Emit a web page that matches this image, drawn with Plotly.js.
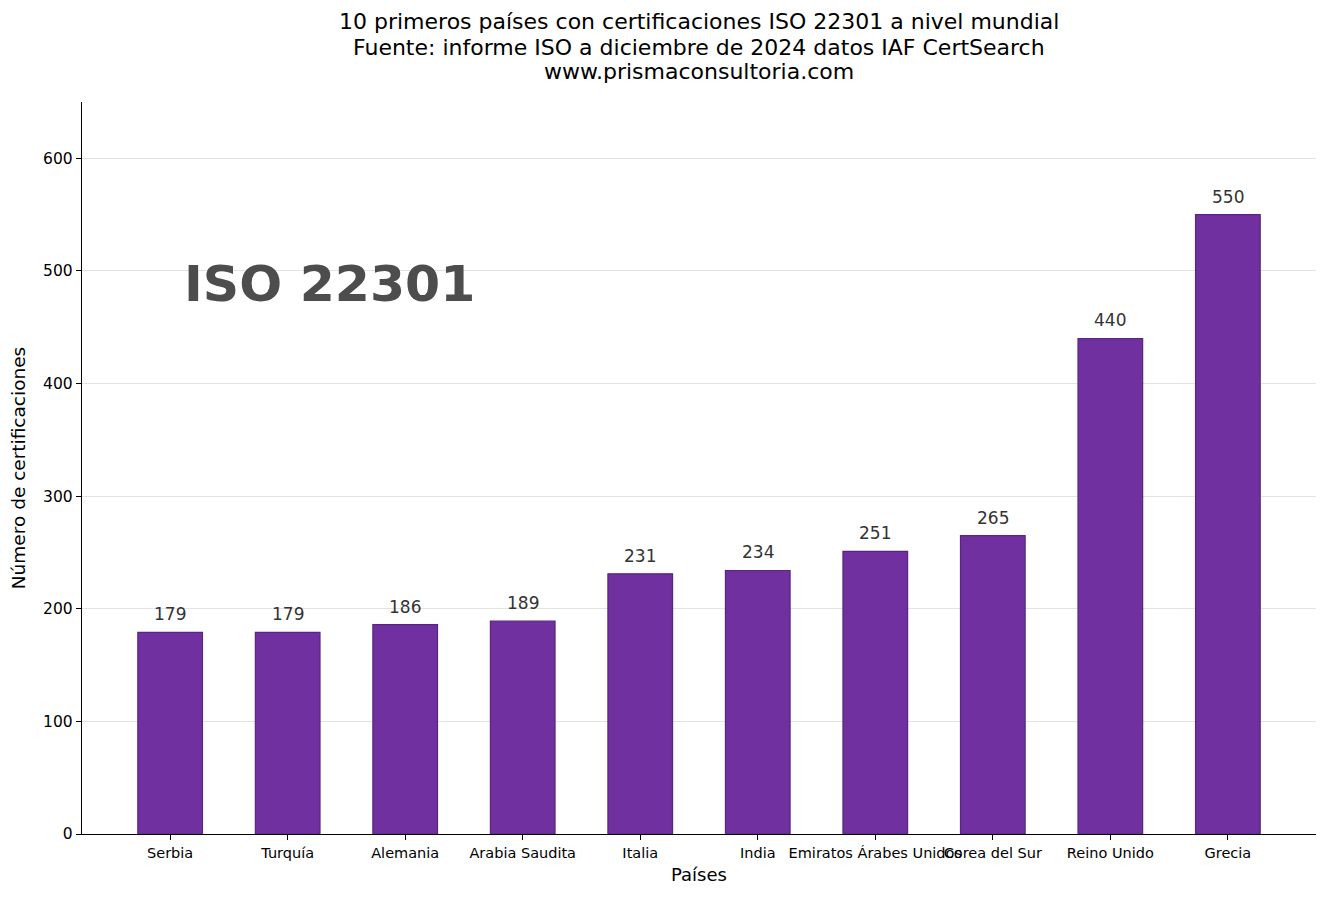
<!DOCTYPE html>
<html>
<head>
<meta charset="utf-8">
<script src="https://cdn.plot.ly/plotly-3.0.1.min.js"></script>
<style>
  body { margin: 0; background: #fff; }
  #chart { width: 1328px; height: 899px; }
</style>
</head>
<body>
<div id="chart"></div>
<script>
// datos
var paises = ['Serbia', 'Turquía', 'Alemania', 'Arabia Saudita', 'Italia', 'India',
              'Emiratos Árabes Unidos', 'Corea del Sur', 'Reino Unido', 'Grecia'];
var certificaciones = [179, 179, 186, 189, 231, 234, 251, 265, 440, 550];
var yTicks = [0, 100, 200, 300, 400, 500, 600];
var titulo = ['10 primeros países con certificaciones ISO 22301 a nivel mundial',
              'Fuente: informe ISO a diciembre de 2024 datos IAF CertSearch',
              'www.prismaconsultoria.com'];

var fuente = 'DejaVu Sans, sans-serif';

var barras = {
  x: paises,
  y: certificaciones,
  type: 'bar',
  width: 0.55,
  marker: {
    color: '#7030a0',
    line: { color: '#58257f', width: 1.2 }
  },
  hoverinfo: 'x+y'
};

// etiquetas encima de cada barra
var notas = paises.map(function (p, i) {
  return {
    x: p,
    y: certificaciones[i],
    text: String(certificaciones[i]),
    showarrow: false,
    yanchor: 'bottom',
    yshift: 6,
    font: { family: fuente, size: 17, color: '#333333' }
  };
});

// titulo en tres lineas, mas juntas que el titulo de plotly
var yTitulo = [1.1093, 1.0751, 1.0423];
titulo.forEach(function (t, i) {
  notas.push({
    xref: 'paper', yref: 'paper',
    x: 0.5, y: yTitulo[i],
    xanchor: 'center', yanchor: 'middle',
    text: t,
    showarrow: false,
    font: { family: fuente, size: 22, color: '#000000' }
  });
});

notas.push({
  xref: 'paper', yref: 'y',
  x: 0.081, y: 489,
  xanchor: 'left', yanchor: 'middle',
  text: '<b>ISO 22301</b>',
  showarrow: false,
  font: { family: fuente, size: 50.5, color: '#4d4d4d' }
});

var layout = {
  width: 1328,
  height: 899,
  margin: { l: 82, r: 12, t: 102, b: 65 },
  paper_bgcolor: '#ffffff',
  plot_bgcolor: '#ffffff',
  font: { family: fuente, color: '#000000' },
  showlegend: false,
  xaxis: {
    type: 'category',
    range: [-0.75, 9.75],
    showgrid: false,
    zeroline: false,
    showline: true,
    linecolor: '#000000',
    linewidth: 1.2,
    ticks: 'outside',
    ticklen: 5,
    tickwidth: 1,
    tickcolor: '#000000',
    tickangle: 0,
    automargin: false,
    tickfont: { family: fuente, size: 14.5, color: '#000000' },
    title: { text: 'Países', font: { family: fuente, size: 18, color: '#000000' }, standoff: 8 }
  },
  yaxis: {
    range: [0, 650],
    tickvals: yTicks,
    showgrid: true,
    gridcolor: '#e3e3e3',
    gridwidth: 1,
    zeroline: false,
    showline: true,
    linecolor: '#000000',
    linewidth: 1.2,
    ticks: 'outside',
    ticklen: 5,
    tickwidth: 1,
    tickcolor: '#000000',
    automargin: false,
    tickfont: { family: fuente, size: 15.5, color: '#000000' },
    title: { text: 'Número de certificaciones', font: { family: fuente, size: 18.5, color: '#000000' }, standoff: 12 }
  },
  annotations: notas
};

Plotly.newPlot('chart', [barras], layout, { displayModeBar: false, staticPlot: true });
</script>
</body>
</html>
